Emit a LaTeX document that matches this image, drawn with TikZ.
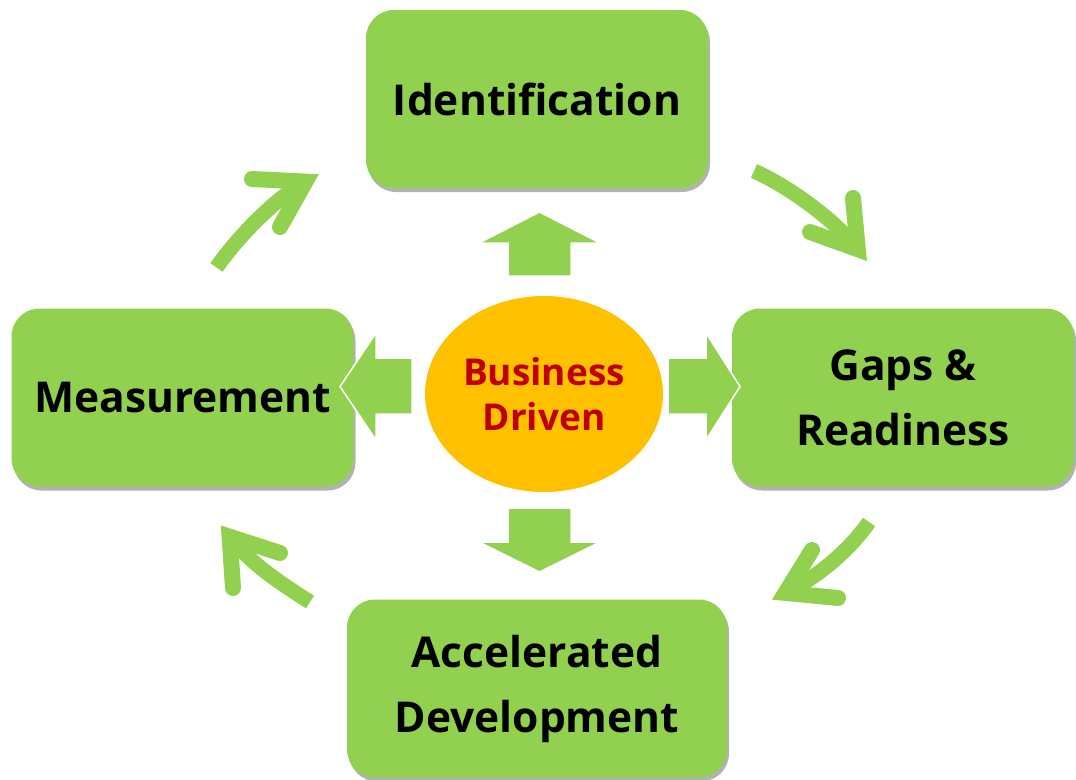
\documentclass[tikz,border=0pt]{standalone}
\usepackage{fontspec}
\setmainfont{Open Sans}
\usepackage{xcolor}
\usepackage{tikz}
\usetikzlibrary{shapes.geometric,shadows}

\definecolor{stagegreen}{HTML}{92D050}
\definecolor{hubgold}{HTML}{FFC000}
\definecolor{hubred}{HTML}{C00000}

\tikzset{
    stage/.style={rectangle, rounded corners=28pt, fill=stagegreen, text=black,
        minimum width=342pt, minimum height=178pt, align=center,
        font=\fontsize{42.5}{65}\selectfont\bfseries,
        drop shadow={shadow xshift=2pt, shadow yshift=-4pt, opacity=0.3, fill=black}},
    hub/.style={ellipse, fill=hubgold, text=hubred, inner sep=0pt,
        minimum width=238pt, minimum height=196pt, align=center,
        font=\fontsize{37}{45}\selectfont\bfseries},
    blockarrow/.style={fill=stagegreen, draw=white, line width=1.5pt},
    cycleshaft/.style={draw=stagegreen, line width=15pt, line cap=butt},
    cyclehead/.style={draw=stagegreen, line width=16pt, line cap=round, line join=miter}
}

\begin{document}
\begin{tikzpicture}[x=1pt, y=-1pt]
        \useasboundingbox (0,0) rectangle (1076,779);

        % the four stages
        \node[stage] (ident) at (537, 99) {Identification};
        \node[stage] (gaps) at (903, 397.5) {Gaps \&\\Readiness};
        \node[stage] (accel) at (537, 688.5) [minimum width=380pt] {Accelerated\\Development};
        \node[stage] (meas) at (182.5, 397.5) {Measurement};

        % the hub
        \node[hub] (hub) at (544, 394) {Business\\Driven};

        % block arrows out of the hub
        \filldraw[blockarrow] (508,276) -- (508,243) -- (479,243) -- (539.5,212) -- (600,243) -- (571,243) -- (571,276) -- cycle;
        \filldraw[blockarrow] (508,508) -- (571,508) -- (571,542) -- (600,542) -- (539.5,572) -- (479,542) -- (508,542) -- cycle;
        \filldraw[blockarrow] (412,358) -- (376,358) -- (376,333) -- (340,386.5) -- (376,440) -- (376,414) -- (412,414) -- cycle;
        \filldraw[blockarrow] (668,358) -- (706,358) -- (706,333) -- (740,386.5) -- (706,440) -- (706,414) -- (668,414) -- cycle;

        % the cycle
        \coordinate (mi-tail) at (216.5, 267.5);
        \coordinate (mi-tip) at (305.5, 181.6);
        \draw[cycleshaft] (mi-tail) .. controls (236.4,238.7) and (274.8,198.5) .. (mi-tip);
        \draw[cyclehead] (252,179) -- (mi-tip) -- (280,227);

        \coordinate (ig-tail) at (754, 171);
        \coordinate (ig-tip) at (857.8, 249.2);
        \draw[cycleshaft] (ig-tail) .. controls (789.7,186.8) and (836.4,221.5) .. (ig-tip);
        \draw[cyclehead] (853,198) -- (ig-tip) -- (810,232);

        \coordinate (ga-tail) at (869, 522);
        \coordinate (ga-tip) at (785.5, 592.9);
        \draw[cycleshaft] (ga-tail) .. controls (849.1,550.8) and (816.9,577.5) .. (ga-tip);
        \draw[cyclehead] (812,550) -- (ga-tip) -- (838,598);

        \coordinate (am-tail) at (310, 602);
        \coordinate (am-tip) at (229.6, 536.7);
        \draw[cycleshaft] (am-tail) .. controls (280.5,583.2) and (251.2,564.2) .. (am-tip);
        \draw[cyclehead] (233,588) -- (am-tip) -- (280,553);
    \end{tikzpicture}
\end{document}
